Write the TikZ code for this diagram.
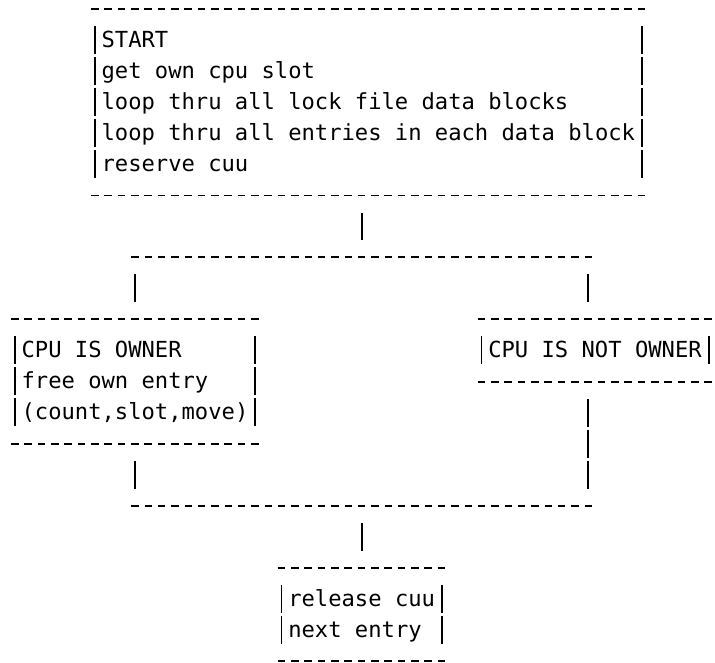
\documentclass[tikz,border=0pt]{standalone}
\usepackage{fontspec}
\newfontfamily\asciifont{DejaVu Sans Mono}[WordSpace={1,0,0},PunctuationSpace=WordSpace,Ligatures=NoCommon]
\usepackage{xcolor}
\definecolor{inkblack}{RGB}{0,0,0}
\usetikzlibrary{calc}
\newcommand{\rowstrut}{\rule[-8.3pt]{0pt}{31.05pt}}

\begin{document}
\begin{tikzpicture}[x=13.333pt, y=31.05pt,
  asciibox/.style={inner xsep=6.667pt, inner ysep=15.525pt, align=left, anchor=center,
    font=\asciifont\fontsize{22.15pt}{31.05pt}\selectfont, text=inkblack},
  dashrule/.style={inkblack, line width=1.9pt, dash pattern=on 7.6pt off 5.733pt,
    shorten <=-3.8pt, shorten >=-3.8pt},
  barrule/.style={inkblack, line width=1.9pt, dash pattern=on 28.05pt off 3pt,
    shorten <=17.025pt, shorten >=17.025pt}]
  \useasboundingbox (-1.125,0.29) rectangle (52.5,-21.03);

  % --- Boxes ---
  \node[asciibox] (start) at (26.5,-3) {\rowstrut START\\
    \rowstrut get own cpu slot\\
    \rowstrut loop thru all lock file data blocks\\
    \rowstrut loop thru all entries in each data block\\
    \rowstrut reserve cuu};
  \node[asciibox] (owner) at (9,-12) {\rowstrut CPU IS OWNER\\
    \rowstrut free own entry\\
    \rowstrut (count,slot,move)};
  \node[asciibox] (notowner) at (43.5,-11) {\rowstrut CPU IS NOT OWNER};
  \node[asciibox] (release) at (26,-19.5) {\rowstrut release cuu\\
    \rowstrut next entry};

  % Box frames
  \draw[dashrule] (start.north west) -- (start.north east);
  \draw[dashrule] (start.south west) -- (start.south east);
  \draw[barrule] (start.north west) -- (start.south west);
  \draw[barrule] (start.north east) -- (start.south east);

  \draw[dashrule] (owner.north west) -- (owner.north east);
  \draw[dashrule] (owner.south west) -- (owner.south east);
  \draw[barrule] (owner.north west) -- (owner.south west);
  \draw[barrule] (owner.north east) -- (owner.south east);

  \draw[dashrule] (notowner.north west) -- (notowner.north east);
  \draw[dashrule] (notowner.south west) -- (notowner.south east);
  \draw[barrule] (notowner.north west) -- (notowner.south west);
  \draw[barrule] (notowner.north east) -- (notowner.south east);

  \draw[dashrule] (release.north west) -- (release.north east);
  \draw[dashrule] (release.south west) -- (release.south east);
  \draw[barrule] (release.north west) -- (release.south west);
  \draw[barrule] (release.north east) -- (release.south east);

  % --- Branch and merge lines ---
  \coordinate (split) at (26,-8);
  \coordinate (lsplit) at (9,-8);
  \coordinate (rsplit) at (43,-8);
  \coordinate (lmerge) at (9,-16);
  \coordinate (rmerge) at (43,-16);
  \coordinate (merge) at (26,-16);

  \draw[barrule] (start.south -| split) -- (split);
  \draw[dashrule] (lsplit) -- (rsplit);
  \draw[barrule] (lsplit) -- (owner.north -| lsplit);
  \draw[barrule] (rsplit) -- (notowner.north -| rsplit);

  \draw[barrule] (owner.south -| lmerge) -- (lmerge);
  \draw[barrule] (notowner.south -| rmerge) -- (rmerge);
  \draw[dashrule] (lmerge) -- (rmerge);
  \draw[barrule] (merge) -- (release.north -| merge);
\end{tikzpicture}
\end{document}
